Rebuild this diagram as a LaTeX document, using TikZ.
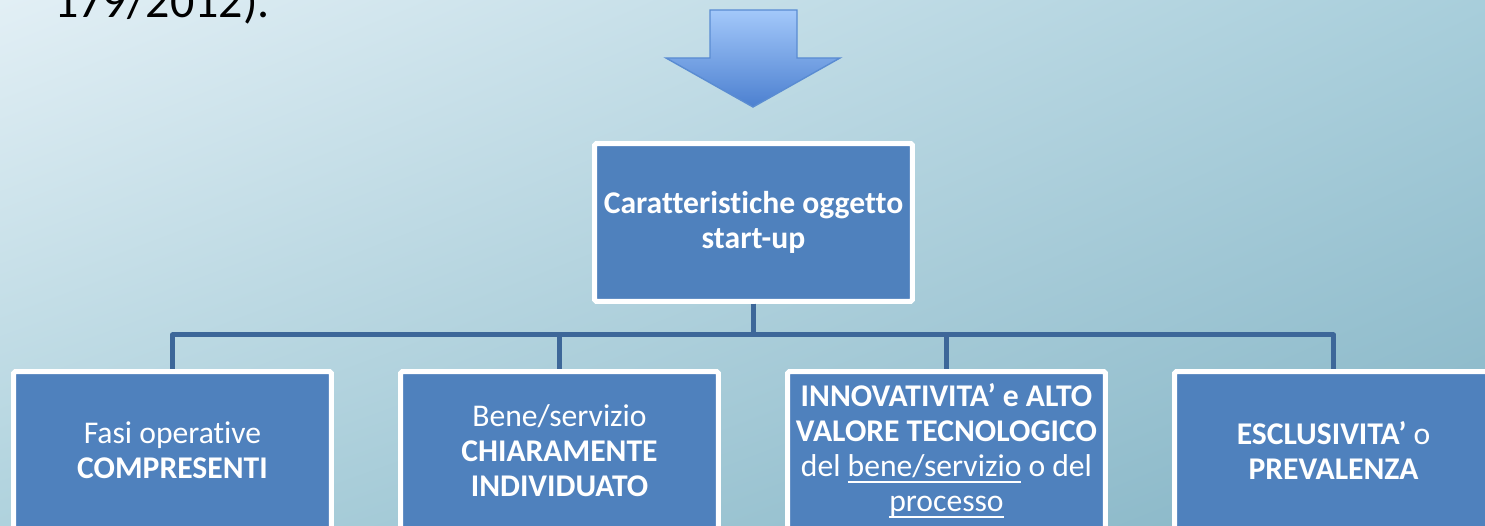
\documentclass[tikz,border=0pt]{standalone}
\usepackage{fontspec}
\setmainfont{Carlito}[Ligatures=NoCommon]
\usepackage{xcolor}
\usepackage{tikz}
\usetikzlibrary{positioning,calc,shadings}
\definecolor{boxblue}{HTML}{4F81BD}
\definecolor{linkblue}{HTML}{3D6799}
\definecolor{arrtop}{HTML}{A3C8FA}
\definecolor{arrbot}{HTML}{4C80D0}
\definecolor{arrline}{HTML}{5A8CD2}
\definecolor{bgul}{HTML}{E2EFF5}
\definecolor{bgur}{HTML}{A8CEDB}
\definecolor{bgll}{HTML}{AFD2DD}
\definecolor{bglr}{HTML}{85B4C5}
\newcommand{\ulword}[1]{\setbox0\hbox{#1}\rlap{\rule[-3.8pt]{\wd0}{1.1pt}}\box0\relax}
\tikzset{
  itembox/.style={rectangle,draw=white,line width=2.85pt,fill=boxblue,rounded corners=1pt,
    minimum width=6.36cm,minimum height=3.16cm,inner sep=0pt,text=white,align=center,
    font=\fontsize{18}{19.9}\selectfont},
  link/.style={line width=2.85pt,linkblue,line join=round},
  bigarrow/.style={top color=arrtop,bottom color=arrbot,draw=arrline,line width=.8pt},
  lab/.style={font=\fontsize{27.3}{30}\selectfont,inner sep=0pt}
}
\begin{document}
\begin{tikzpicture}[x=0.02cm,y=-0.02cm]
  \useasboundingbox (0,0) rectangle (1485,526);
  \clip (0,0) rectangle (1485,526);
  \shade[upper left=bgul,upper right=bgur,lower left=bgll,lower right=bglr]
    (0,0) rectangle (1485,526);
  \node[lab,anchor=base west] (ref) at (54,18) {179/2012).};
  % arrow
  \shade[bigarrow] (710,10) -- (797,10) -- (797,58) -- (840,58) -- (753,107)
    -- (666,58) -- (710,58) -- cycle;
  \node[itembox] (top) at (753.5,222.5) {\textbf{Caratteristiche oggetto}\\\textbf{start-up}};
  \node[itembox] (b1) at (172.5,450.5) {Fasi operative\\\textbf{COMPRESENTI}};
  \node[itembox] (b2) at (559.5,450.5) {Bene/servizio\\\textbf{CHIARAMENTE}\\\textbf{INDIVIDUATO}};
  \node[itembox] (b3) at (946.5,450.5) {\textbf{INNOVATIVITA’ e ALTO}\\\textbf{VALORE TECNOLOGICO}\\del \ulword{bene/servizio} o del\\\ulword{processo}};
  \node[itembox] (b4) at (1333.5,450.5) {\textbf{ESCLUSIVITA’} o\\\textbf{PREVALENZA}};
  \foreach \b in {b1,b2,b3,b4}
    \draw[link] (top.south) -- ++(0,31) -| (\b.north);
\end{tikzpicture}
\end{document}
